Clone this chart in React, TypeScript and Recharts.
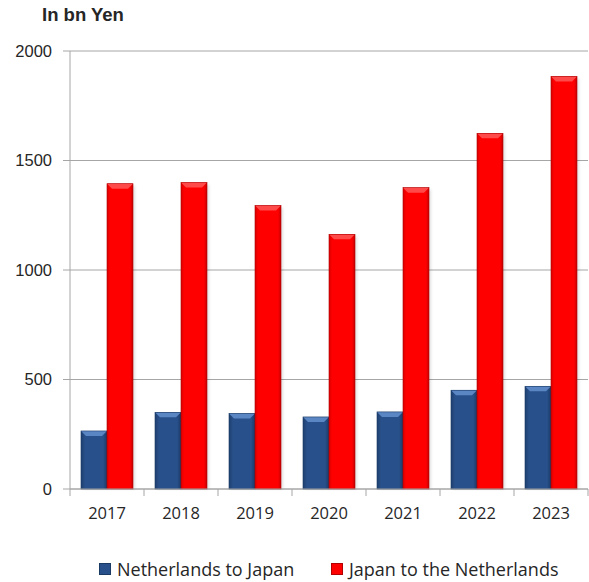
import React from 'react';
import { BarChart, Bar, XAxis, YAxis, CartesianGrid } from 'recharts';

const years = ['2017', '2018', '2019', '2020', '2021', '2022', '2023'];
const netherlandsToJapan = [265, 350, 345, 329, 352, 451, 469];
const japanToNetherlands = [1394, 1399, 1294, 1163, 1376, 1624, 1884];
const yTicks = [0, 500, 1000, 1500, 2000];
const seriesNames = ['Netherlands to Japan', 'Japan to the Netherlands'];

const data = years.map((y, i) => ({
  year: y,
  nl: netherlandsToJapan[i],
  jp: japanToNetherlands[i],
}));

const AXIS_COLOR = '#a6a6a6';
const TEXT_COLOR = '#262626';

const BevelBar = (props: any) => {
  const { x, y, width, height, kind } = props;
  if (!height || height <= 0) return null;
  const b = Math.min(5, width / 4);
  const isBlue = kind === 'blue';
  const gid = isBlue ? 'gBlue' : 'gRed';
  const topFill = isBlue ? '#5b86c4' : '#ff4a4a';
  const edge = isBlue ? '#1a3a66' : '#b00000';
  return (
    <g>
      <rect x={x + 2} y={y + 2} width={width} height={height - 2} fill="#000" opacity={0.12} filter="url(#shadowBlur)" />
      <rect x={x} y={y} width={width} height={height} fill={`url(#${gid})`} />
      <polygon points={`${x},${y} ${x + width},${y} ${x + width - b},${y + b} ${x + b},${y + b}`} fill={topFill} />
      <rect x={x} y={y} width={width} height={height} fill="none" stroke={edge} strokeWidth={0.6} />
    </g>
  );
};

const XTick = (props: any) => {
  const { x, y, payload, index } = props;
  const off = payload.offset || 0;
  return (
    <g>
      <line x1={x - off} y1={y - 8} x2={x - off} y2={y - 1} stroke={AXIS_COLOR} strokeWidth={1} />
      {index === years.length - 1 && (
        <line x1={x + off} y1={y - 8} x2={x + off} y2={y - 1} stroke={AXIS_COLOR} strokeWidth={1} />
      )}
      <text x={x} y={y + 22} textAnchor="middle" fill={TEXT_COLOR} fontSize={16.5} fontFamily="'Open Sans', sans-serif">
        {payload.value}
      </text>
    </g>
  );
};

export default function App() {
  return (
    <div style={{ position: 'absolute', left: 0, top: 0, width: 589, height: 582, background: '#fff' }}>
      <div
        style={{
          position: 'absolute',
          left: 42,
          top: 4,
          fontFamily: "'Liberation Sans', Arial, sans-serif",
          fontWeight: 'bold',
          fontSize: 18.5,
          color: TEXT_COLOR,
        }}
      >
        In bn Yen
      </div>
      <BarChart
        width={589}
        height={582}
        data={data}
        margin={{ top: 51, right: 1, left: 0, bottom: 63 }}
        barGap={0}
        barCategoryGap={11}
      >
        <defs>
          <linearGradient id="gBlue" x1="0" y1="0" x2="1" y2="0">
            <stop offset="0%" stopColor="#1e3f6e" />
            <stop offset="15%" stopColor="#28508a" />
            <stop offset="85%" stopColor="#28508a" />
            <stop offset="100%" stopColor="#1b3a66" />
          </linearGradient>
          <linearGradient id="gRed" x1="0" y1="0" x2="1" y2="0">
            <stop offset="0%" stopColor="#d90000" />
            <stop offset="12%" stopColor="#ff0000" />
            <stop offset="88%" stopColor="#ff0000" />
            <stop offset="100%" stopColor="#c80000" />
          </linearGradient>
          <filter id="shadowBlur" x="-20%" y="-5%" width="140%" height="110%">
            <feGaussianBlur stdDeviation="1.5" />
          </filter>
        </defs>
        <CartesianGrid vertical={false} stroke={AXIS_COLOR} strokeWidth={1} />
        <XAxis
          dataKey="year"
          height={30}
          tickLine={false}
          axisLine={{ stroke: AXIS_COLOR }}
          tick={<XTick />}
          interval={0}
        />
        <YAxis
          width={70}
          domain={[0, 2000]}
          ticks={yTicks}
          tickSize={7}
          tickMargin={11}
          tickLine={{ stroke: AXIS_COLOR }}
          axisLine={{ stroke: AXIS_COLOR }}
          tick={{ fill: TEXT_COLOR, fontSize: 16.5, fontFamily: "'Liberation Sans', Arial, sans-serif" }}
        />
        <Bar dataKey="nl" name={seriesNames[0]} isAnimationActive={false} shape={(p: any) => <BevelBar {...p} kind="blue" />} />
        <Bar dataKey="jp" name={seriesNames[1]} isAnimationActive={false} shape={(p: any) => <BevelBar {...p} kind="red" />} />
      </BarChart>
      <div
        style={{
          position: 'absolute',
          left: 0,
          top: 557,
          width: 589,
          display: 'flex',
          fontFamily: "'Open Sans', sans-serif",
          fontSize: 18,
          color: TEXT_COLOR,
          lineHeight: '24px',
        }}
      >
        <div style={{ position: 'absolute', left: 99, display: 'flex', alignItems: 'center', whiteSpace: 'nowrap' }}>
          <span style={{ display: 'inline-block', width: 12, height: 12, background: '#28508a', border: '1px solid #1a3a66', boxSizing: 'border-box', marginRight: 6 }} />
          {seriesNames[0]}
        </div>
        <div style={{ position: 'absolute', left: 331, display: 'flex', alignItems: 'center', whiteSpace: 'nowrap' }}>
          <span style={{ display: 'inline-block', width: 12, height: 12, background: '#ff0000', border: '1px solid #b00000', boxSizing: 'border-box', marginRight: 6 }} />
          {seriesNames[1]}
        </div>
      </div>
    </div>
  );
}
